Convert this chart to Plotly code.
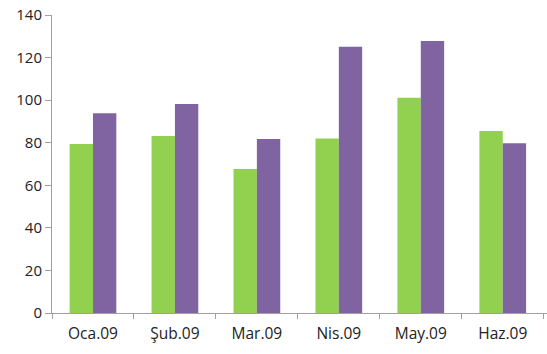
import plotly.graph_objects as go

categories = ["Oca.09", "Şub.09", "Mar.09", "Nis.09", "May.09", "Haz.09"]
series_green = [79.4, 83.1, 67.6, 82.0, 101.1, 85.5]
series_purple = [93.8, 98.2, 81.7, 125.1, 127.8, 79.7]
y_ticks = [0, 20, 40, 60, 80, 100, 120, 140]

fig = go.Figure()
fig.add_trace(go.Bar(x=categories, y=series_green, marker=dict(color="#92D050", line=dict(width=0)), name="A"))
fig.add_trace(go.Bar(x=categories, y=series_purple, marker=dict(color="#8064A2", line=dict(width=0)), name="B"))

font = "Open Sans, Lato, sans-serif"
fig.update_layout(
    width=547, height=354,
    margin=dict(l=52, r=0, t=15, b=41),
    barmode="group", bargap=0.43, bargroupgap=0,
    plot_bgcolor="white", paper_bgcolor="white",
    showlegend=False,
    font=dict(family=font, size=14, color="#222222"),
)
fig.update_xaxes(
    range=[-0.5, 5.54],
    showline=True, linecolor="#A0A0A0", linewidth=1,
    ticks="outside", tickson="boundaries", ticklen=5, tickcolor="#A0A0A0",
    showgrid=False, tickfont=dict(size=15.5), ticklabelstandoff=6,
)
fig.update_yaxes(
    range=[0, 140], tickvals=y_ticks,
    showline=True, linecolor="#A0A0A0", linewidth=1,
    ticks="outside", ticklen=6, tickcolor="#A0A0A0",
    showgrid=False, zeroline=False, tickfont=dict(size=15),
)
fig.write_html("out.html")
